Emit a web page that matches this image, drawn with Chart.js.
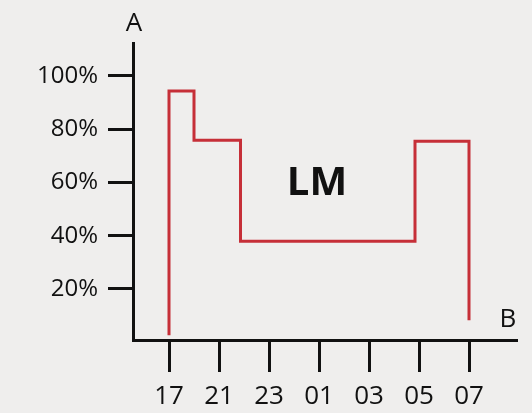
<!DOCTYPE html>
<html>
<head>
<meta charset="utf-8">
<script src="https://cdn.jsdelivr.net/npm/chart.js@4.4.1/dist/chart.umd.min.js"></script>
<style>
  html, body { margin: 0; padding: 0; background: #efeeed; }
  #wrap { width: 532px; height: 413px; }
</style>
</head>
<body>
<div id="wrap"><canvas id="myChart" width="532" height="413"></canvas></div>
<script>
// Time labels on the B axis (equally spaced)
const timeLabels = ['17', '21', '23', '01', '03', '05', '07'];
// Y ticks in percent
const yTicks = [20, 40, 60, 80, 100];

// Vertices of the step outline (x in label index, y in %)
const stepX = [0, 0, 0.5, 0.5, 1.43, 1.43, 4.92, 4.92, 6, 6];
const stepY = [2.6, 94.4, 94.4, 75.9, 75.9, 37.9, 37.9, 75.5, 75.5, 8.3];

const lmPos = { x: 2.96, y: 59.7 };

const fontFamily = '"Open Sans", "Noto Sans", sans-serif';

const points = stepX.map((x, i) => ({ x, y: stepY[i] }));

const labelsPlugin = {
  id: 'labelsPlugin',
  afterDraw(chart) {
    const { ctx, chartArea, scales } = chart;
    ctx.save();
    ctx.fillStyle = '#111';
    ctx.textAlign = 'center';
    ctx.textBaseline = 'middle';
    ctx.font = `400 26px ${fontFamily}`;
    ctx.fillText('A', chartArea.left + 1, 24);
    ctx.fillText('B', chartArea.right - 9, 320);
    ctx.font = `700 40px ${fontFamily}`;
    ctx.fillText('LM', scales.x.getPixelForValue(lmPos.x), scales.y.getPixelForValue(lmPos.y));
    ctx.restore();
  },
};

new Chart(document.getElementById('myChart'), {
  type: 'line',
  data: {
    datasets: [
      {
        data: points,
        borderColor: '#c62f38',
        borderWidth: 3,
        pointRadius: 0,
        tension: 0,
        fill: false,
        clip: false,
      },
    ],
  },
  options: {
    responsive: false,
    animation: false,
    layout: {
      padding: { left: 0, top: 43, right: 15, bottom: 0 },
    },
    plugins: {
      legend: { display: false },
      tooltip: { enabled: false },
    },
    scales: {
      x: {
        type: 'linear',
        min: -0.72,
        max: 6.96,
        afterFit: (scale) => { scale.height = 73; },
        afterBuildTicks: (scale) => {
          scale.ticks = timeLabels.map((_, i) => ({ value: i }));
        },
        ticks: {
          color: '#111',
          font: { family: fontFamily, size: 26 },
          padding: 9,
          callback: (value) => timeLabels[value] ?? '',
          maxRotation: 0,
          autoSkip: false,
        },
        grid: {
          drawOnChartArea: false,
          drawTicks: true,
          tickLength: 32,
          tickColor: '#111',
          tickWidth: 3,
        },
        border: { display: true, color: '#111', width: 3 },
      },
      y: {
        type: 'linear',
        min: 0.845,
        max: 112.39,
        afterFit: (scale) => { scale.width = 133; },
        afterBuildTicks: (scale) => {
          scale.ticks = yTicks.map((v) => ({ value: v }));
        },
        ticks: {
          color: '#111',
          font: { family: fontFamily, size: 24 },
          padding: 10,
          callback: (value) => value + '%',
        },
        grid: {
          drawOnChartArea: false,
          drawTicks: true,
          tickLength: 25,
          tickColor: '#111',
          tickWidth: 3,
        },
        border: { display: true, color: '#111', width: 3 },
      },
    },
  },
  plugins: [labelsPlugin],
});
</script>
</body>
</html>
